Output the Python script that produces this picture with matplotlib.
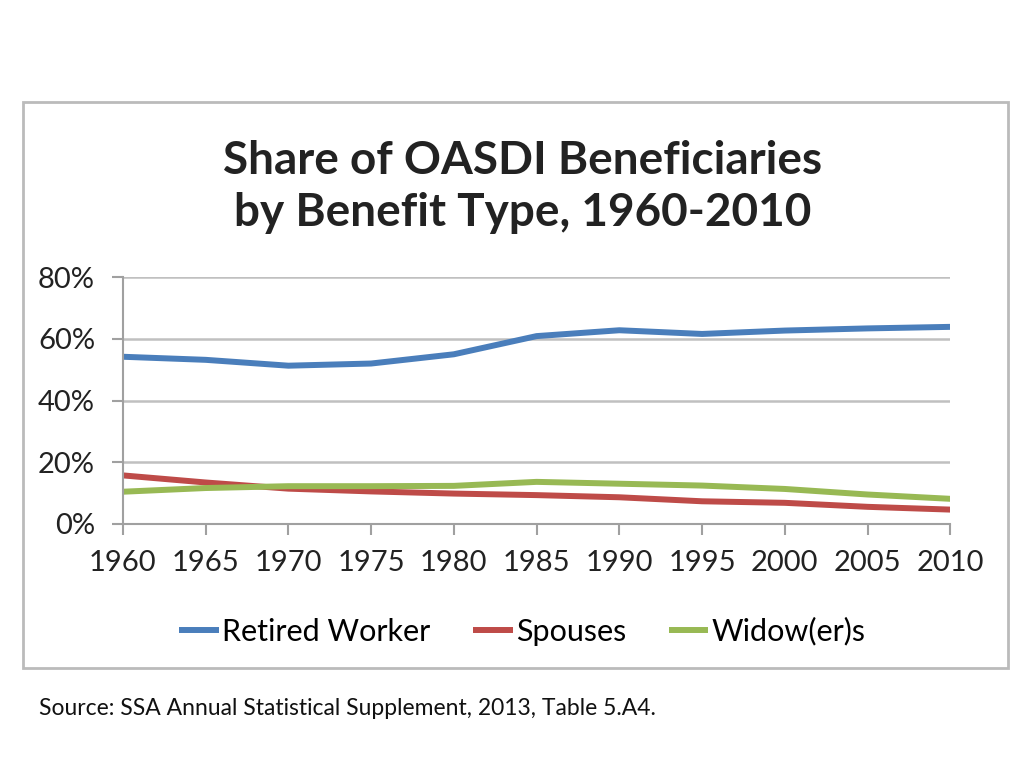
import matplotlib.pyplot as plt
from matplotlib.patches import Rectangle
from matplotlib.ticker import FuncFormatter

plt.rcParams['font.family'] = ['Lato', 'DejaVu Sans']

years = [1960, 1965, 1970, 1975, 1980, 1985, 1990, 1995, 2000, 2005, 2010]
retired = [54.2, 53.2, 51.3, 52.0, 55.0, 60.9, 62.8, 61.6, 62.7, 63.4, 63.9]
spouses = [15.7, 13.4, 11.4, 10.5, 9.8, 9.3, 8.6, 7.3, 6.8, 5.5, 4.6]
widows = [10.4, 11.6, 12.2, 12.2, 12.3, 13.6, 13.0, 12.4, 11.3, 9.5, 8.1]
labels = ["Retired Worker", "Spouses", "Widow(er)s"]
colors = ["#4a7ebb", "#be4b48", "#98b954"]

fig = plt.figure(figsize=(10.24, 7.68), dpi=100)
ax = fig.add_axes([0.120, 0.318, 0.808, 0.321])

for vals, lab, col in zip([retired, spouses, widows], labels, colors):
    ax.plot(years, vals, color=col, linewidth=4.3, label=lab, solid_capstyle='butt')

ax.set_xlim(1960, 2010)
ax.set_ylim(0, 80)
ax.set_xticks(years)
ax.set_yticks([0, 20, 40, 60, 80])
ax.yaxis.set_major_formatter(FuncFormatter(lambda v, p: "%d%%" % v))
ax.grid(axis='y', color='#c0c0c0', linewidth=1.8)
ax.set_axisbelow(True)
for s in ['top', 'right']:
    ax.spines[s].set_visible(False)
for s in ['left', 'bottom']:
    ax.spines[s].set_color('#a0a0a0')
    ax.spines[s].set_linewidth(1.5)
ax.tick_params(axis='both', colors='#a0a0a0', labelcolor='#222222', labelsize=21,
               length=8, width=1.5)
ax.tick_params(axis='x', pad=11)
ax.tick_params(axis='y', pad=12)

fig.text(0.51, 0.757, "Share of OASDI Beneficiaries\nby Benefit Type, 1960-2010",
         ha='center', va='center', fontsize=33, fontweight='bold', color='#222222',
         linespacing=1.3)

fig.legend(loc='center', bbox_to_anchor=(0.51, 0.178), ncol=3, frameon=False,
           fontsize=22, handlelength=1.3, handletextpad=0.1, columnspacing=1.4)

fig.patches.append(Rectangle((0.022, 0.130), 0.962, 0.737, transform=fig.transFigure,
                             fill=False, edgecolor='#bbbbbb', linewidth=2))

fig.text(0.038, 0.078, "Source: SSA Annual Statistical Supplement, 2013, Table 5.A4.",
         ha='left', va='center', fontsize=16.5, color='#111111')

fig.savefig("out.png", dpi=100)
